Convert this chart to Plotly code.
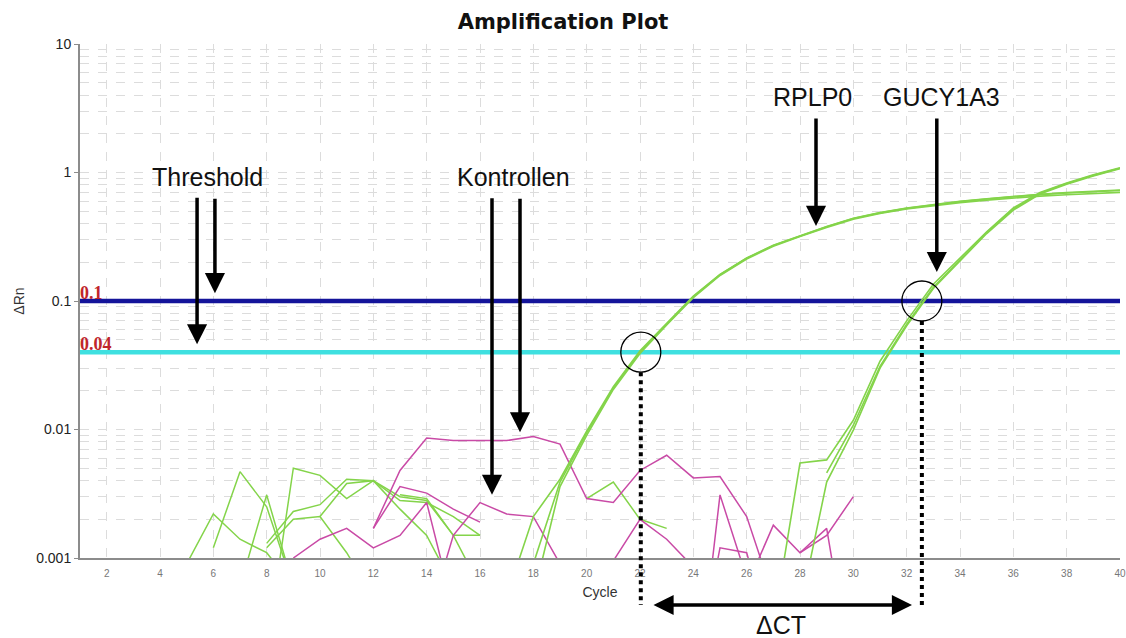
import math
import plotly.graph_objects as go

# ---------------- data ----------------
TITLE = "Amplification Plot"
X_TITLE = "Cycle"
Y_TITLE = "ΔRn"
X_RANGE = [1, 40]
X_TICKS = list(range(2, 41, 2))
Y_TICKS = [0.001, 0.01, 0.1, 1, 10]
Y_TICK_LABELS = ["0.001", "0.01", "0.1", "1", "10"]

THRESHOLDS = [0.1, 0.04]
THRESHOLD_LABELS = ["0.1", "0.04"]

# RPLP0 amplification curves (start cycle 17)
RPLP0_START = 17
RPLP0_A = [0.0005, 0.0021, 0.0041, 0.0097, 0.0215, 0.041, 0.067, 0.109, 0.161, 0.216, 0.272, 0.322,
           0.380, 0.440, 0.487, 0.528, 0.563, 0.596, 0.625, 0.653, 0.677, 0.697, 0.715, 0.730]
RPLP0_B = [None, 0.0009, 0.0039, 0.0094, 0.0210, 0.040, 0.066, 0.108, 0.160, 0.215, 0.270, 0.320,
           0.378, 0.438, 0.485, 0.526, 0.561, 0.593, 0.622, 0.650, 0.673, 0.693, 0.710, 0.725]
RPLP0_C = [None, 0.0005, 0.0036, 0.0090, 0.0205, 0.039, 0.065, 0.106, 0.158, 0.212, 0.267, 0.317,
           0.374, 0.433, 0.480, 0.520, 0.553, 0.583, 0.610, 0.635, 0.655, 0.672, 0.688, 0.700]

# GUCY1A3 amplification curves (start cycle 27)
GUCY_START = 27
GUCY_A = [0.0003, 0.0055, 0.0058, 0.0118, 0.034, 0.070, 0.135, 0.215, 0.345, 0.53, 0.70, 0.83, 0.96, 1.09]
GUCY_B = [None, 0.0004, 0.0039, 0.0099, 0.030, 0.064, 0.125, 0.205, 0.335, 0.51, 0.68, 0.81, 0.94, 1.07]
GUCY_C = [None, None, 0.0046, 0.0108, 0.031, 0.066, 0.128, 0.210, 0.340, 0.52, 0.69, 0.82, 0.95, 1.08]

# Kontrollen (magenta): (start cycle, values)
K1_START, K1 = 12, [0.0017, 0.0048, 0.0086, 0.0082, 0.0082, 0.0082, 0.0088, 0.0077, 0.0029, 0.0027,
                    0.0048, 0.0063, 0.0042, 0.0043, 0.0021, 0.0005]
K2_START, K2 = 12, [0.0017, 0.0036, 0.0032, 0.0024, 0.0019]
K3_START, K3 = 9, [0.0010, 0.0014, 0.0017, 0.0012, 0.0015, 0.0027, 0.0004]
K4_START, K4 = 14, [0.0003, 0.0015, 0.0027, 0.0022, 0.0021, 0.0009]
K5_START, K5 = 21, [0.00095, 0.0020, 0.0014, 0.00085]
K6_START, K6 = 24, [0.00005, 0.0031, 0.0007]
K7_START, K7 = 24, [0.0001, 0.0012, 0.0011, 0.0002]
K8_START, K8 = 26, [0.0006, 0.0018, 0.0011, 0.0015, 0.0030]
K9_START, K9 = 28, [0.0011, 0.0017, 0.0001]

# early background noise of sample wells (green): (start cycle, values)
N1_START, N1 = 5, [0.0009, 0.0022, 0.0014, 0.0011, 0.0006]
N2_START, N2 = 6, [0.0012, 0.0047, 0.0025, 0.0006]
N3_START, N3 = 7, [0.0006, 0.0031, 0.0006]
N4_START, N4 = 8, [0.0002, 0.0050, 0.0044, 0.0029, 0.0040, 0.0028, 0.0027, 0.0021, 0.0015]
N5_START, N5 = 8, [0.0013, 0.0023, 0.0026, 0.0041, 0.0040, 0.0030, 0.0028, 0.0015, 0.0006]
N6_START, N6 = 8, [0.0012, 0.0020, 0.0021, 0.0011, 0.0005]
N7_START, N7 = 10, [0.0021, 0.0038, 0.0040, 0.0024, 0.0015, 0.0006]
N8_START, N8 = 13, [0.0031, 0.0029, 0.0015, 0.0015]
N9_START, N9 = 20, [0.0029, 0.0039, 0.0020, 0.0017]

CT_RPLP0 = 22.03
CT_GUCY1A3 = 32.57

# ---------------- styles ----------------
GREEN = "#84d44a"
MAGENTA = "#c94aa6"
THRESH_COLORS = ["#14149a", "#3fe0e0"]
LABEL_RED = "#c0262b"
GRID = "#dcdcdc"
TEXT_FONT = "Liberation Sans, Arial, sans-serif"
W, H = 1126, 638
M_L, M_R, M_T, M_B = 80, 6, 44, 80
PLOT_W = W - M_L - M_R
PLOT_H = H - M_T - M_B

fig = go.Figure()


def add_series(start, values, color, width=1.5):
    xs = list(range(start, start + len(values)))
    fig.add_trace(go.Scatter(x=xs, y=values, mode="lines",
                             line=dict(color=color, width=width),
                             connectgaps=False, hoverinfo="skip", showlegend=False))


# thresholds
for t, c in zip(THRESHOLDS, THRESH_COLORS):
    fig.add_trace(go.Scatter(x=X_RANGE, y=[t, t], mode="lines",
                             line=dict(color=c, width=4.5), hoverinfo="skip", showlegend=False))

for s, v in [(N1_START, N1), (N2_START, N2), (N3_START, N3), (N4_START, N4), (N5_START, N5),
             (N6_START, N6), (N7_START, N7), (N8_START, N8), (N9_START, N9)]:
    add_series(s, v, GREEN)
for s, v in [(K1_START, K1), (K2_START, K2), (K3_START, K3), (K4_START, K4), (K5_START, K5),
             (K6_START, K6), (K7_START, K7), (K8_START, K8), (K9_START, K9)]:
    add_series(s, v, MAGENTA)
for v in [RPLP0_A, RPLP0_B, RPLP0_C]:
    add_series(RPLP0_START, v, GREEN, 1.6)
for v in [GUCY_A, GUCY_B, GUCY_C]:
    add_series(GUCY_START, v, GREEN, 1.6)

L = math.log10
Y_LO, Y_HI = L(Y_TICKS[0]), L(Y_TICKS[-1])


def py(v):  # data value -> paper y
    return (L(v) - Y_LO) / (Y_HI - Y_LO)


def px(c):  # cycle -> paper x
    return (c - X_RANGE[0]) / (X_RANGE[1] - X_RANGE[0])


annotations = []

# threshold value labels
for t, lab in zip(THRESHOLDS, THRESHOLD_LABELS):
    annotations.append(dict(x=X_RANGE[0], y=L(t), xref="x", yref="y", text="<b>" + lab + "</b>",
                            showarrow=False, xanchor="left", yanchor="bottom", yshift=-4, xshift=-2,
                            font=dict(family="Liberation Serif, Times New Roman, serif", size=18,
                                      color=LABEL_RED)))

BIG = dict(family=TEXT_FONT, size=25, color="#111111")


def label(text, x, y):
    annotations.append(dict(x=x, y=L(y), xref="x", yref="y", text=text, showarrow=False,
                            font=BIG, xanchor="left", yanchor="middle"))


def arrow(x, y, ay):
    annotations.append(dict(x=x, y=L(y), xref="x", yref="y", text="", showarrow=True,
                            ax=0, ay=ay, arrowhead=2, arrowsize=1.15, arrowwidth=3.5,
                            arrowcolor="#000000", standoff=0, startstandoff=0))


label("Threshold", 3.62, 0.92)
arrow(5.39, 0.046, -148)
arrow(6.06, 0.115, -96)
label("Kontrollen", 15.08, 0.92)
arrow(16.45, 0.0031, -298)
arrow(17.5, 0.0095, -235)
label("RPLP0", 26.9, 3.87)
arrow(28.6, 0.384, -109)
label("GUCY1A3", 31.05, 3.87)
arrow(33.13, 0.168, -155)

# delta CT double arrow and label
annotations.append(dict(x=CT_GUCY1A3 - 0.37, y=-47 / PLOT_H, xref="x", yref="paper",
                        ax=CT_RPLP0 + 0.42, ay=0, axref="x", ayref="pixel",
                        text="", showarrow=True, arrowhead=2, startarrowhead=2, arrowside="end+start",
                        arrowsize=1.15, startarrowsize=1.15, arrowwidth=3.5, arrowcolor="#000000",
                        standoff=0, startstandoff=0))
annotations.append(dict(x=(CT_RPLP0 + CT_GUCY1A3) / 2, y=-67 / PLOT_H, xref="x", yref="paper",
                        text="ΔCT", showarrow=False, font=BIG,
                        xanchor="center", yanchor="middle"))

shapes = []
R = 20
for ct, t in [(CT_RPLP0, THRESHOLDS[1]), (CT_GUCY1A3, THRESHOLDS[0])]:
    cx, cy = px(ct), py(t)
    shapes.append(dict(type="circle", xref="paper", yref="paper",
                       x0=cx - R / PLOT_W, x1=cx + R / PLOT_W, y0=cy - R / PLOT_H, y1=cy + R / PLOT_H,
                       line=dict(color="#000000", width=1.3)))
    shapes.append(dict(type="line", xref="x", yref="paper",
                       x0=ct, x1=ct, y0=cy - R / PLOT_H, y1=-47 / PLOT_H,
                       line=dict(color="#000000", width=4, dash="dot")))

fig.update_layout(
    width=W, height=H,
    margin=dict(l=M_L, r=M_R, t=M_T, b=M_B, autoexpand=False),
    paper_bgcolor="white", plot_bgcolor="white",
    title=dict(text="<b>" + TITLE + "</b>", x=0.5, xref="container", y=1 - 22 / H, yref="container",
               xanchor="center", yanchor="middle",
               font=dict(family="DejaVu Sans, Verdana, sans-serif", size=21, color="#111111")),
    showlegend=False,
    annotations=annotations,
    shapes=shapes,
)
fig.update_xaxes(range=X_RANGE, tickvals=X_TICKS, ticktext=[str(v) for v in X_TICKS],
                 automargin=False,
                 showgrid=True, gridcolor=GRID, griddash="dash", gridwidth=1,
                 showline=True, linecolor="#8c8c8c", linewidth=2, zeroline=False,
                 ticks="outside", ticklen=5, tickcolor="rgba(0,0,0,0)",
                 tickfont=dict(family=TEXT_FONT, size=10, color="#777777"),
                 title=dict(text=X_TITLE, font=dict(family=TEXT_FONT, size=14, color="#333333"), standoff=9))
fig.update_yaxes(type="log", range=[Y_LO, Y_HI], tickvals=Y_TICKS, ticktext=Y_TICK_LABELS,
                 automargin=False,
                 showgrid=True, gridcolor=GRID, griddash="dash", gridwidth=1,
                 minor=dict(dtick="D1", showgrid=True, gridcolor=GRID, griddash="dash", gridwidth=1),
                 showline=True, linecolor="#8c8c8c", linewidth=2, zeroline=False,
                 ticks="outside", ticklen=4, tickcolor="#8c8c8c",
                 tickfont=dict(family=TEXT_FONT, size=14, color="#222222"),
                 title=dict(text=Y_TITLE, font=dict(family=TEXT_FONT, size=14, color="#333333"), standoff=8))

fig.write_html("out.html")
